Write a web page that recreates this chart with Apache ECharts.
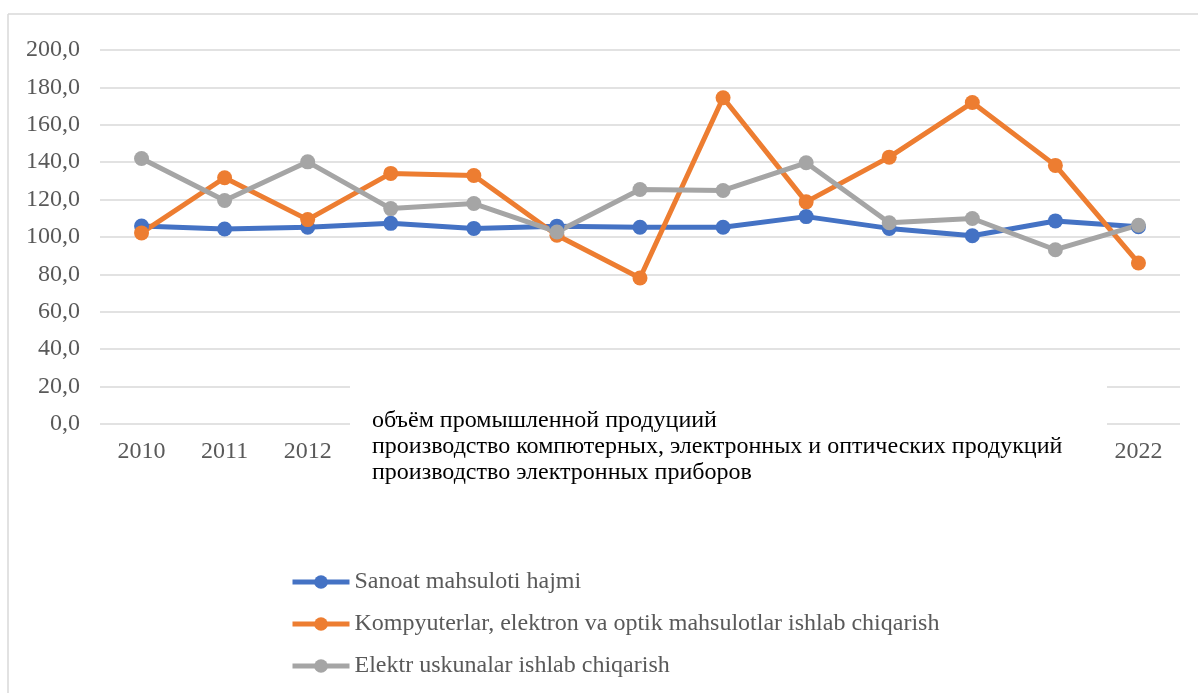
<!DOCTYPE html>
<html>
<head>
<meta charset="utf-8">
<script src="https://cdn.jsdelivr.net/npm/echarts@6/dist/echarts.min.js"></script>
<style>
  html, body { margin: 0; padding: 0; background: #fff; }
  #chart { width: 1198px; height: 693px; }
</style>
</head>
<body>
<div id="chart"></div>
<script>
const years = ['2010', '2011', '2012', '2013', '2014', '2015', '2016', '2017', '2018', '2019', '2020', '2021', '2022']
const yTicks = { min: 0, max: 200, step: 20 }

const sanoat = [105.9, 104.3, 105.2, 107.3, 104.6, 105.8, 105.2, 105.2, 110.9, 104.6, 100.7, 108.6, 105.5]
const kompyuter = [102.2, 131.7, 109.3, 134.0, 132.9, 100.9, 78.1, 174.5, 118.8, 142.7, 171.9, 138.3, 86.1]
const elektr = [142.0, 119.5, 140.2, 115.2, 117.9, 102.7, 125.4, 124.9, 139.7, 107.6, 109.9, 93.2, 106.3]

const seriesNames = [
  'Sanoat mahsuloti hajmi',
  'Kompyuterlar, elektron va optik mahsulotlar ishlab chiqarish',
  'Elektr uskunalar ishlab chiqarish'
]
const noteLines = [
  'объём промышленной продуциий',
  'производство компютерных, электронных и оптических продукций',
  'производство электронных приборов'
]

const colors = ['#4472C4', '#ED7D31', '#A5A5A5']
const serif = '"Liberation Serif", "DejaVu Serif", serif'

const chart = echarts.init(document.getElementById('chart'))

const makeLine = (name, data, color) => ({
  name,
  type: 'line',
  data,
  symbol: 'circle',
  symbolSize: 15,
  lineStyle: { width: 5, color },
  itemStyle: { color },
  emphasis: { disabled: true }
})

const option = {
  animation: false,
  grid: { left: 100, right: 18, top: 50, bottom: 269 },
  xAxis: {
    type: 'category',
    data: years,
    boundaryGap: true,
    axisLine: { show: false },
    axisTick: { show: false },
    axisLabel: { color: '#595959', fontFamily: serif, fontSize: 24, margin: 16 }
  },
  yAxis: {
    type: 'value',
    min: yTicks.min,
    max: yTicks.max,
    interval: yTicks.step,
    axisLine: { show: false },
    axisTick: { show: false },
    splitLine: { lineStyle: { color: '#d9d9d9', width: 1.5 } },
    axisLabel: {
      color: '#595959',
      fontFamily: serif,
      fontSize: 24,
      margin: 20,
      formatter: v => v.toFixed(1).replace('.', ',')
    }
  },
  legend: {
    orient: 'vertical',
    left: 290,
    top: 570,
    padding: 0,
    itemWidth: 57,
    itemHeight: 17,
    itemGap: 18,
    lineStyle: { width: 5 },
    textStyle: { color: '#595959', fontFamily: serif, fontSize: 24, lineHeight: 24 },
    data: seriesNames
  },
  graphic: [
    {
      type: 'line',
      z: 100,
      shape: { x1: 8, y1: 14, x2: 1198, y2: 14 },
      style: { stroke: '#d9d9d9', lineWidth: 1.5 }
    },
    {
      type: 'line',
      z: 100,
      shape: { x1: 8, y1: 14, x2: 8, y2: 693 },
      style: { stroke: '#d9d9d9', lineWidth: 1.5 }
    },
    {
      type: 'rect',
      z: 100,
      shape: { x: 350, y: 376, width: 757, height: 120 },
      style: { fill: '#ffffff' }
    },
    {
      type: 'text',
      z: 101,
      left: 372,
      top: 408,
      style: {
        text: noteLines.join('\n'),
        fill: '#000',
        font: '24px ' + serif,
        lineHeight: 26
      }
    }
  ],
  series: [
    makeLine(seriesNames[0], sanoat, colors[0]),
    makeLine(seriesNames[1], kompyuter, colors[1]),
    makeLine(seriesNames[2], elektr, colors[2])
  ]
}

chart.setOption(option)
</script>
</body>
</html>
